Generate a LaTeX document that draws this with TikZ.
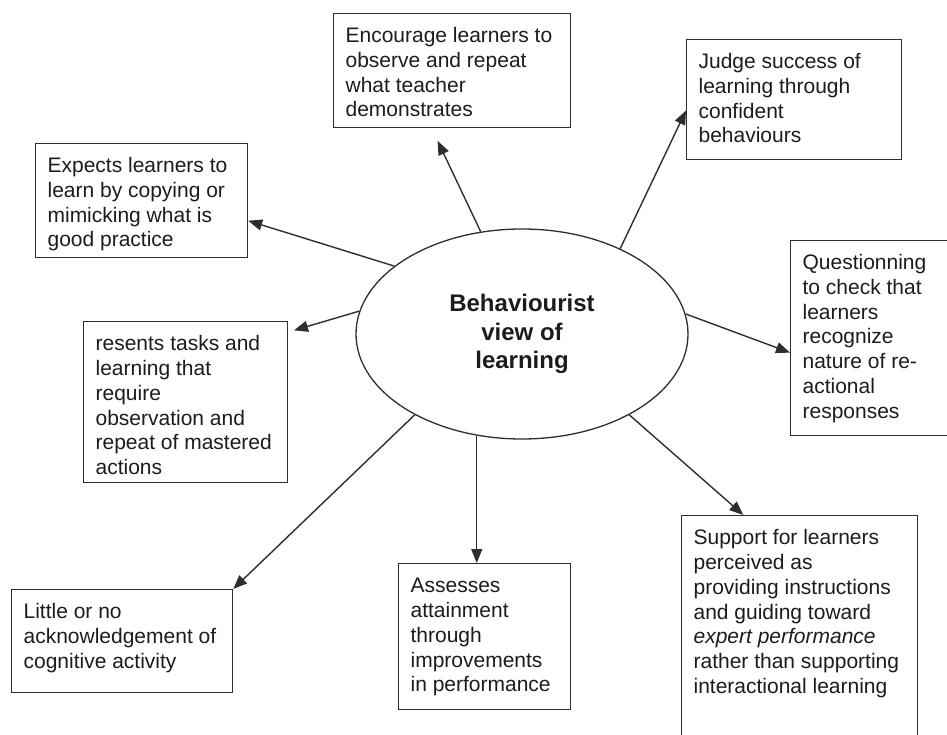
\documentclass[tikz,border=0pt]{standalone}
\usepackage{fontspec}
\setmainfont{Liberation Sans}
\usepackage{tikz}
\usetikzlibrary{arrows.meta,calc,shapes.geometric}
\definecolor{cInk}{HTML}{1C1C1C}
\definecolor{cLine}{HTML}{2E2E2E}
\tikzset{
  % ibox: text height+depth fix the box height, text stays at the top
  ibox/.style={draw=cLine,line width=1.2pt,anchor=north west,align=flush left,text=cInk,
    font=\fontsize{21}{24.8}\selectfont,inner xsep=12pt,inner ysep=14pt,text height=15pt},
  core/.style={draw=cLine,line width=1.3pt,ellipse,minimum width=332pt,minimum height=210pt,
    align=center,text=cInk,font=\fontsize{24}{28.5}\selectfont\bfseries,inner sep=0pt},
  arr/.style={-{Triangle[length=14pt,width=11pt]},line width=1.4pt,color=cLine},
}
\begin{document}
\begin{tikzpicture}[x=1pt,y=-1pt]
    \useasboundingbox (0,0) rectangle (947,735);
    \node[core] (bv) at (522,334) {Behaviourist\\view of\\learning};
    \node[ibox,text width=213pt,text depth=71pt]  (enc) at (333,13)  {Encourage learners to\\observe and repeat\\what teacher\\demonstrates};
    \node[ibox,text width=191pt,text depth=77pt]  (jud) at (686,39)  {Judge success of\\learning through\\confident\\behaviours};
    \node[ibox,text width=188pt,text depth=71pt]  (exp) at (35,143)  {Expects learners to\\learn by copying or\\mimicking what is\\good practice};
    \node[ibox,text width=180pt,text depth=118pt] (res) at (83,321)  {resents tasks and\\learning that\\require\\observation and\\repeat of mastered\\actions};
    \node[ibox,text width=133pt,text depth=152pt] (que) at (790,240) {Questionning\\to check that\\learners\\recognize\\nature of re-\\actional\\responses};
    \node[ibox,text width=197pt,text depth=60pt]  (lit) at (11,589)  {Little or no\\acknowledgement of\\cognitive activity};
    \node[ibox,text width=148pt,text depth=103pt] (ass) at (398,563) {Assesses\\attainment\\through\\improvements\\in performance};
    \node[ibox,text width=212pt,text depth=187pt] (sup) at (681,515) {Support for learners\\perceived as\\providing instructions\\and guiding toward\\\textit{expert performance}\\rather than supporting\\interactional learning};
    \draw[arr,shorten >=14pt] (bv.112) -- ($(enc.south west)!0.414!(enc.south east)$);
    \draw[arr] (bv.152) -- ($(exp.north east)!0.675!(exp.south east)$);
    \draw[arr,shorten >=6pt] (bv.172) -- ($(res.north east)!0.068!(res.south east)$);
    \draw[arr] (bv.41) -- ($(jud.north west)!0.59!(jud.south west)$);
    \draw[arr] (bv.7.6) -- ($(que.north west)!0.574!(que.south west)$);
    \draw[arr] (bv.217) -- (lit.north east);
    \draw[arr] (bv.246) -- (bv.246 |- ass.north);
    \draw[arr] (bv.323.5) -- ($(sup.north west)!0.263!(sup.north east)$);
\end{tikzpicture}
\end{document}
